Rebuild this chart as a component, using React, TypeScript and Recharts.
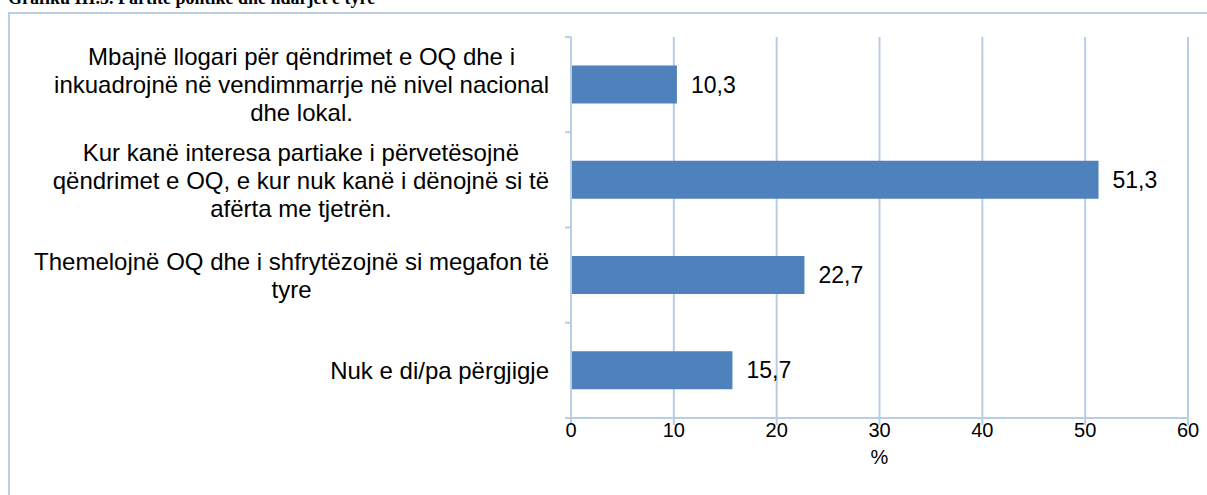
import React from 'react';
import { BarChart, Bar, XAxis, YAxis, CartesianGrid, LabelList } from 'recharts';

const categories = [
  'Mbajnë llogari për qëndrimet e OQ dhe i\ninkuadrojnë në vendimmarrje në nivel nacional\ndhe lokal.',
  'Kur kanë interesa partiake i përvetësojnë\nqëndrimet e OQ, e kur nuk kanë i dënojnë si të\nafërta me tjetrën.',
  'Themelojnë OQ dhe i shfrytëzojnë si megafon të\ntyre',
  'Nuk e di/pa përgjigje',
];
const values = [10.3, 51.3, 22.7, 15.7];
const xTicks = [0, 10, 20, 30, 40, 50, 60];

const data = categories.map((c, i) => ({ category: c, value: values[i] }));

const FONT = '"Liberation Sans", Arial, sans-serif';
const AXIS_BLUE = '#b9cde5';
const BAND = (495 - 37 - 77) / categories.length;
const LABEL_SIZE = 24;

let ctx: CanvasRenderingContext2D | null = null;
function measure(s: string) {
  if (!ctx) ctx = document.createElement('canvas').getContext('2d');
  if (!ctx) return s.length * 11;
  ctx.font = `${LABEL_SIZE}px "Liberation Sans"`;
  return ctx.measureText(s).width;
}

function CategoryTick(props: any) {
  const { y, payload } = props;
  const lines = String(payload.value).split('\n');
  const maxW = Math.max(...lines.map(measure));
  const cx = 549 - maxW / 2;
  const lh = 28;
  const y0 = y - ((lines.length - 1) * lh) / 2;
  return (
    <g>
      <text textAnchor="middle" fontFamily={FONT} fontSize={LABEL_SIZE} fill="#000">
        {lines.map((l, i) => (
          <tspan key={i} x={cx} y={y0 + i * lh} dy="0.36em">{l}</tspan>
        ))}
      </text>
      <line x1={565} x2={571} y1={y - BAND / 2} y2={y - BAND / 2} stroke={AXIS_BLUE} strokeWidth={2} />
      {payload.index === categories.length - 1 && (
        <line x1={565} x2={571} y1={y + BAND / 2} y2={y + BAND / 2} stroke={AXIS_BLUE} strokeWidth={2} />
      )}
    </g>
  );
}

const fmt = (v: any) => Number(v).toFixed(1).replace('.', ',');

export default function App() {
  return (
    <div style={{ position: 'absolute', left: 0, top: 0, width: 1207, height: 495, overflow: 'hidden', background: '#fff' }}>
      <div style={{ position: 'absolute', left: 8, top: -11, fontFamily: '"Liberation Serif", "Times New Roman", serif', fontWeight: 'bold', fontSize: 18, lineHeight: '18px', whiteSpace: 'nowrap' }}>
        Grafiku III.5. Partitë politike dhe ndarjet e tyre
      </div>
      <div style={{ position: 'absolute', left: 8, top: 12, width: 1220, height: 500, border: `2px solid ${AXIS_BLUE}`, boxSizing: 'border-box' }} />
      <div style={{ position: 'absolute', left: 0, top: 0 }}>
        <BarChart width={1207} height={495} data={data} layout="vertical"
          margin={{ top: 37, right: 19, bottom: 0, left: 0 }} barCategoryGap="30%">
          <CartesianGrid horizontal={false} stroke={AXIS_BLUE} strokeWidth={2} />
          <XAxis type="number" domain={[0, 60]} ticks={xTicks} height={77}
            axisLine={{ stroke: AXIS_BLUE, strokeWidth: 2 }}
            tickLine={{ stroke: AXIS_BLUE, strokeWidth: 2 }} tickSize={7} tickMargin={0}
            tick={{ fill: '#000', fontSize: 20, fontFamily: FONT, dy: -2 }}
            label={{ value: '%', position: 'insideBottom', offset: 31, fill: '#000', fontSize: 20, fontFamily: FONT }} />
          <YAxis type="category" dataKey="category" width={571}
            axisLine={{ stroke: AXIS_BLUE, strokeWidth: 2 }} tickLine={false}
            tick={<CategoryTick />} interval={0} />
          <Bar dataKey="value" fill="#4f81bd" isAnimationActive={false}>
            <LabelList dataKey="value" position="right" offset={14} formatter={fmt}
              fill="#000" fontSize={23} fontFamily={FONT} />
          </Bar>
        </BarChart>
      </div>
    </div>
  );
}
